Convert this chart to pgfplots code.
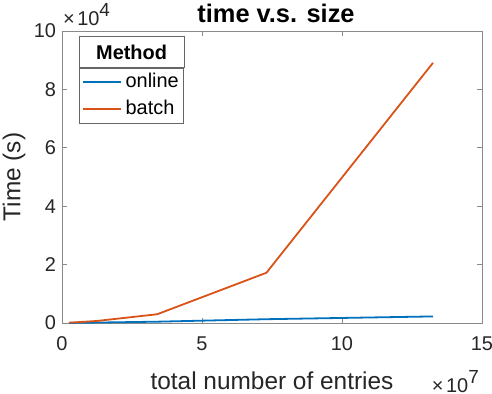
\documentclass[border=0pt]{standalone}
\usepackage{fontspec}
\setmainfont{Liberation Sans}
\usepackage{pgfplots}
\pgfplotsset{compat=1.18}
\usetikzlibrary{calc}
\definecolor{mblue}{HTML}{0072BD}
\definecolor{morange}{HTML}{D95319}
\definecolor{mtext}{HTML}{262626}
\definecolor{maxis}{HTML}{8A8A8A}
\newcommand{\expo}[1]{{\fontsize{20}{24}\selectfont\color{mtext}×\kern2.5bp 10\raisebox{9bp}{\fontsize{19}{22}\selectfont #1}}}
\begin{document}
\begin{tikzpicture}
\path[use as bounding box] (-62bp,-71bp) rectangle (430bp,323bp);
\begin{axis}[
  name=ax,
  scale only axis,
  width=420bp, height=292bp,
  xmin=0, xmax=15e7, ymin=0, ymax=1e5,
  xtick={0,5e7,10e7,15e7}, xticklabels={0,5,10,15},
  ytick={0,20000,40000,60000,80000,100000}, yticklabels={0,2,4,6,8,10},
  scaled ticks=false,
  tick align=inside,
  major tick length=5bp,
  axis line style={draw=maxis, line width=0.8bp},
  every tick/.style={draw=maxis, line width=0.8bp},
  /pgf/number format/assume math mode=true,
  tick label style={font=\fontsize{20}{24}\selectfont, text=mtext},
  xticklabel style={yshift=-10bp},
  yticklabel style={xshift=-2.5bp},
  xlabel={total number of entries},
  ylabel={Time (s)},
  every axis x label/.style={at={(rel axis cs:0.5,0)}, anchor=base, yshift=-66bp, font=\fontsize{24.5}{28}\selectfont, text=mtext},
  every axis y label/.style={at={(rel axis cs:0,0.5)}, anchor=center, rotate=90, yshift=48bp, font=\fontsize{24.5}{28}\selectfont, text=mtext},
  title={time v.s. size},
  every axis title/.style={at={(rel axis cs:0.5,1)}, anchor=base, xshift=4bp, yshift=8bp, font=\bfseries\fontsize{25.5}{30}\selectfont, text=black},
  legend style={name=leg, at={(rel axis cs:0,1)}, anchor=north west, xshift=17bp, yshift=-37bp,
    font=\fontsize{20}{24}\selectfont, draw=black!60, line width=0.6bp, text=black,
    inner xsep=3bp, inner ysep=3bp, row sep=5bp, column sep=2bp,
    nodes={inner xsep=1.5bp, inner ysep=1bp, text height=15bp, text depth=5bp}},
  legend cell align=left,
  legend image code/.code={\draw[#1, line width=1.8bp] (0bp,0bp) -- (38bp,0bp);},
]
\addplot[mblue, line width=1.8bp] coordinates {
  (0.25e7,30) (1.25e7,150) (3.4e7,450) (7.3e7,1300) (13.25e7,2250)
};
\addlegendentry{online}
\addplot[morange, line width=1.8bp] coordinates {
  (0.25e7,100) (1.25e7,700) (3.4e7,3000) (7.3e7,17200) (13.25e7,89100)
};
\addlegendentry{batch}
\end{axis}
\node[anchor=base west, inner sep=0] at ([xshift=1bp,yshift=5bp]ax.north west) {\expo{4}};
\node[anchor=base east, inner sep=0] at ([xshift=-3bp,yshift=-69bp]ax.south east) {\expo{7}};
\path let \p1=($(leg.north east)-(leg.north west)$) in
  node[draw=black!60, line width=0.6bp, anchor=south west, minimum width=\x1, minimum height=31bp, inner sep=0pt, font=\bfseries\fontsize{20}{24}\selectfont] at (leg.north west) {Method};
\end{tikzpicture}
\end{document}
